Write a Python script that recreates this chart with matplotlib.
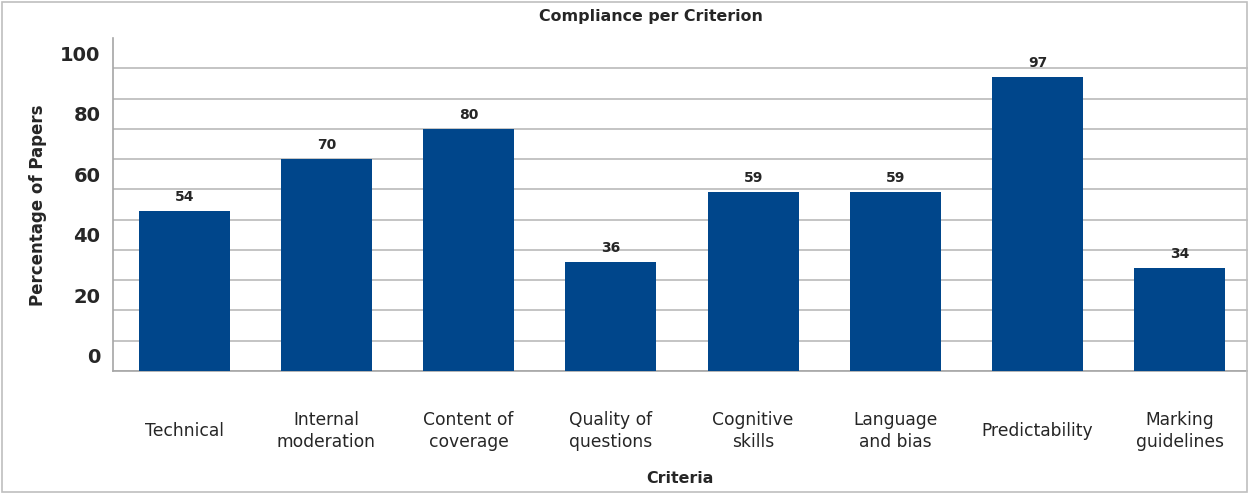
import matplotlib
matplotlib.use("Agg")
import matplotlib.pyplot as plt
from matplotlib.patches import Rectangle
import numpy as np

categories = ["Technical", "Internal\nmoderation", "Content of\ncoverage", "Quality of\nquestions",
              "Cognitive\nskills", "Language\nand bias", "Predictability", "Marking\nguidelines"]
values = [53, 70, 80, 36, 59, 59, 97, 34]
value_labels = ["54", "70", "80", "36", "59", "59", "97", "34"]
ytick_values = [0, 20, 40, 60, 80, 100]

plt.rcParams['font.family'] = ['DejaVu Sans']
W, H = 1248, 494
fig = plt.figure(figsize=(W/100, H/100), dpi=100)
fig.patches.append(Rectangle((2/W, 2/H), (W-3)/W, (H-4)/H, transform=fig.transFigure,
                             fill=False, edgecolor='#BFBFBF', lw=1.2))

left, right, top, bottom = 113, 1251, 38, 371
ax = fig.add_axes([left/W, 1-bottom/H, (right-left)/W, (bottom-top)/H])
x = np.arange(len(categories))
ax.bar(x, values, width=0.64, color='#00468B', zorder=3)
ax.set_xlim(-0.5, len(categories)-0.5)
ax.set_ylim(0, 110)

ax.set_yticks(np.arange(0, 101, 10), minor=True)
ax.grid(axis='y', which='minor', color='#BFBFBF', lw=1.3, zorder=0)
ax.set_yticks([v + 5 for v in ytick_values])
ax.set_yticklabels([str(v) for v in ytick_values], fontsize=14, fontweight='bold', color='#262626')
ax.tick_params(axis='y', which='both', length=0, pad=9)

ax.set_xticks(x)
ax.set_xticklabels(categories, fontsize=12.3, color='#262626', linespacing=1.3, va='center')
ax.tick_params(axis='x', length=0, pad=43)

for s in ['top', 'right']:
    ax.spines[s].set_visible(False)
for s in ['left', 'bottom']:
    ax.spines[s].set_color('#A6A6A6')
    ax.spines[s].set_linewidth(1.2)

for xi, v, lab in zip(x, values, value_labels):
    ax.annotate(lab, (xi, v), xytext=(0, 5), textcoords='offset points', ha='center', va='bottom',
                fontsize=10, fontweight='bold', color='#262626')

fig.text(651/W, 1-17/H, "Compliance per Criterion", ha='center', va='center',
         fontsize=11.4, fontweight='bold', color='#262626')
fig.text(680/W, 1-478/H, "Criteria", ha='center', va='center',
         fontsize=11.4, fontweight='bold', color='#262626')
fig.text(38/W, 1-205/H, "Percentage of Papers", ha='center', va='center', rotation=90,
         fontsize=12, fontweight='bold', color='#262626')

fig.savefig("out.png", dpi=100)
